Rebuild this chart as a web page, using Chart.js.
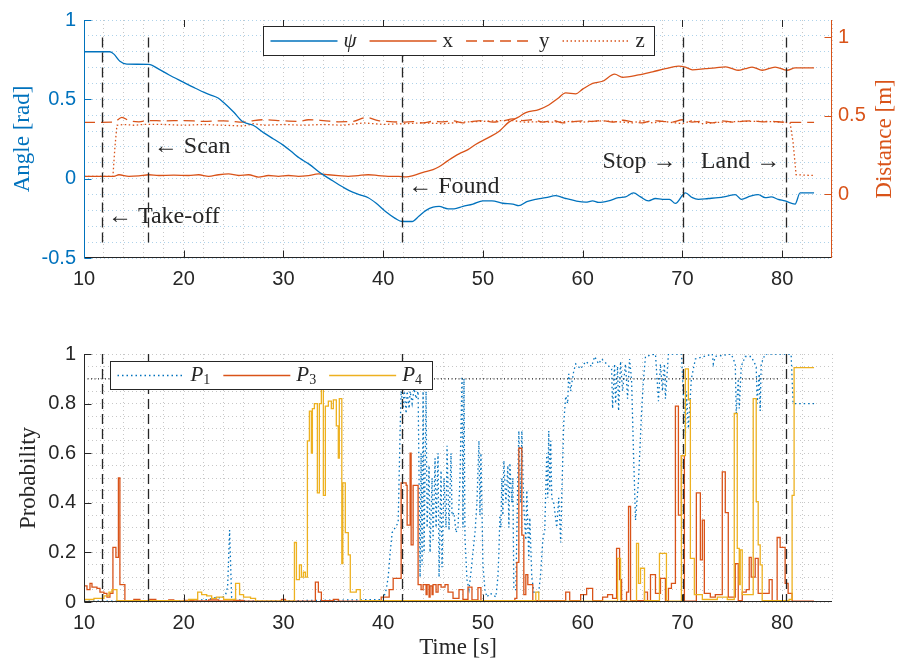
<!DOCTYPE html>
<html>
<head>
<meta charset="utf-8">
<script src="https://cdn.jsdelivr.net/npm/chart.js@4.4.1/dist/chart.umd.min.js"></script>
<style>
  body { margin: 0; background: #fff; }
  .panel { position: absolute; left: 0; }
</style>
</head>
<body>
<canvas id="poseChart" class="panel" style="top:0" width="898" height="300"></canvas>
<canvas id="probChart" class="panel" style="top:330px" width="898" height="335"></canvas>
<script>
const BLUE = '#0072BD', ORANGE = '#D95319', YELLOW = '#EDB120', INK = '#262626';
const GRID = 'rgba(38,38,38,0.26)';
const GRID_BLUE = 'rgba(0,114,189,0.32)';
const SERIF = '"Liberation Serif", "DejaVu Serif", serif';

// flight events [s]
const eventTimes = [11.8, 16.4, 41.9, 70.1, 80.4];
const eventSpanAngle = [-0.41, 0.89];

// notes on the top panel (anchored in time / angle)
const noteText  = ['\u2190 Take-off', '\u2190 Scan', '\u2190 Found', 'Stop \u2192', 'Land \u2192'];
const noteTime  = [12.4, 17.0, 42.5, 69.4, 79.8];
const noteAngle = [-0.24, 0.2, -0.05, 0.11, 0.11];
const noteAlign = ['left', 'left', 'left', 'right', 'right'];

// labelled ticks
const timeLabels  = [10, 20, 30, 40, 50, 60, 70, 80];
const angleLabels = [-0.5, 0, 0.5, 1];
const distLabels  = [0, 0.5, 1];
const probLabels  = [0, 0.2, 0.4, 0.6, 0.8, 1];

// heading psi [rad]
const psiTime = [10, 12.6, 13.0, 13.6, 14.3, 16.5, 17.5, 18.5, 20, 21, 22, 22.6, 23.4, 24, 25, 25.9, 26.5, 27, 28, 29,
  30, 31, 31.6, 32.6, 33.6, 34.6, 35.6, 36.6, 37.6, 38.5, 39.3, 40.3, 41.2, 41.9, 42.9, 43.6, 44.3, 45, 45.6, 46.5,
  47.1, 48, 49, 50, 50.9, 52, 53, 53.6, 54.4, 55.3, 56.3, 57.3, 58.3, 59.3, 60.3, 61, 61.6, 62.6, 63.6, 64.3,
  65.1, 65.8, 66.6, 67.3, 68, 68.7, 69.3, 70.3, 71, 71.6, 72.6, 73.6, 74.5, 75.3, 75.9, 76.8, 77.6, 78.3, 78.9, 79.6,
  80.3, 81.3, 81.8, 83.2];
const psiVal = [0.80, 0.80, 0.785, 0.74, 0.722, 0.72, 0.69, 0.655, 0.607, 0.575, 0.545, 0.53, 0.51, 0.48, 0.42, 0.36, 0.345, 0.335, 0.29, 0.25,
  0.21, 0.16, 0.13, 0.09, 0.04, 0.0, -0.04, -0.075, -0.10, -0.12, -0.155, -0.21, -0.25, -0.27, -0.27, -0.235, -0.20, -0.18, -0.175, -0.19,
  -0.19, -0.175, -0.16, -0.14, -0.14, -0.155, -0.16, -0.17, -0.145, -0.13, -0.12, -0.107, -0.125, -0.14, -0.148, -0.14, -0.15, -0.14, -0.12, -0.115,
  -0.09, -0.115, -0.14, -0.125, -0.13, -0.13, -0.156, -0.09, -0.12, -0.13, -0.125, -0.12, -0.11, -0.10, -0.13, -0.11, -0.10, -0.12, -0.115, -0.13,
  -0.14, -0.16, -0.09, -0.09];

// position x [m]
const xTime = [10, 13, 13.5, 14.5, 15.5, 16.5, 17.5, 19, 20.5, 21.5, 22.5, 23.5, 24.5, 25.5, 26.5, 27.5, 28.5, 29.5, 30.5, 31.5,
  32.5, 33.5, 34.5, 35.5, 36.5, 37.5, 38.5, 39.5, 40.5, 41.5, 42.3, 43, 44, 45, 45.6, 46.5, 47.6, 48.5, 49.3, 50.5,
  51.6, 52.6, 53.5, 54.3, 55.6, 56.6, 57.5, 58.3, 59.3, 60, 61, 62, 63.2, 64, 65.6, 67, 68.3, 69.6, 70.3, 71,
  72.3, 73.3, 74.3, 75, 75.6, 76.3, 77, 78, 79.3, 80.5, 81.3, 83.2];
const xVal = [0.115, 0.115, 0.125, 0.115, 0.118, 0.125, 0.12, 0.122, 0.12, 0.125, 0.115, 0.125, 0.13, 0.12, 0.125, 0.11, 0.12, 0.115, 0.12, 0.115,
  0.12, 0.13, 0.125, 0.12, 0.115, 0.12, 0.125, 0.12, 0.115, 0.115, 0.112, 0.12, 0.14, 0.158, 0.176, 0.215, 0.258, 0.285, 0.319, 0.36,
  0.40, 0.46, 0.49, 0.52, 0.54, 0.569, 0.61, 0.646, 0.64, 0.67, 0.707, 0.72, 0.765, 0.745, 0.76, 0.78, 0.80, 0.816, 0.81, 0.793,
  0.80, 0.805, 0.812, 0.80, 0.79, 0.80, 0.81, 0.79, 0.81, 0.79, 0.805, 0.805];

// position y [m]
const yTime = [10, 13, 13.8, 14.5, 15.5, 16.5, 18, 20, 22, 24, 26, 27, 28, 30, 31.5, 32.5, 34, 35.5, 37, 38.3,
  39.5, 41, 42, 43, 44, 45, 46, 47, 48, 49, 50, 51, 52, 53, 54, 55, 56, 57, 58, 59,
  60, 61, 62, 63, 64, 65, 66, 67, 68, 69, 70, 71, 72, 73, 74, 75, 76, 77, 78, 79, 80, 81, 83.2];
const yVal = [0.458, 0.46, 0.49, 0.47, 0.462, 0.47, 0.468, 0.47, 0.465, 0.468, 0.46, 0.47, 0.475, 0.468, 0.465, 0.475, 0.47, 0.462, 0.465, 0.49,
  0.47, 0.462, 0.46, 0.463, 0.455, 0.465, 0.462, 0.468, 0.455, 0.465, 0.47, 0.46, 0.468, 0.48, 0.47, 0.475, 0.46, 0.47, 0.455, 0.462,
  0.468, 0.465, 0.47, 0.46, 0.472, 0.462, 0.455, 0.47, 0.465, 0.46, 0.475, 0.46, 0.465, 0.455, 0.468, 0.46, 0.465, 0.468, 0.462, 0.465, 0.46, 0.458, 0.458];

// position z [m]
const zTime = [10, 12.9, 13.1, 13.3, 14, 15, 16, 18, 20, 22, 24, 26, 27, 28, 30, 32, 34, 36, 38, 40,
  42, 44, 46, 48, 50, 52, 53, 54, 55.5, 57, 59, 60, 62, 64, 65, 66, 67, 68, 70, 71,
  72, 74, 76, 78, 80, 80.8, 81.1, 81.4, 83.2];
const zVal = [0.115, 0.115, 0.3, 0.44, 0.445, 0.44, 0.445, 0.445, 0.44, 0.445, 0.44, 0.435, 0.45, 0.44, 0.445, 0.44, 0.445, 0.44, 0.455, 0.445,
  0.45, 0.455, 0.45, 0.46, 0.465, 0.47, 0.47, 0.46, 0.462, 0.46, 0.465, 0.46, 0.468, 0.46, 0.455, 0.47, 0.455, 0.465, 0.45, 0.47,
  0.45, 0.46, 0.465, 0.465, 0.46, 0.455, 0.33, 0.125, 0.12];

// class probabilities
const p1Time = [10, 20, 22.5, 23.3, 23.8, 24.2, 24.4, 24.6, 24.8, 25.3, 26.5, 40.0, 40.3, 40.5, 40.7, 40.9, 41.2, 41.5, 41.7, 41.8,
  42.0, 42.1, 42.3, 42.4, 42.6, 42.7, 42.9, 43.1, 43.3, 43.5, 43.7, 43.8, 43.9, 44.0, 44.1, 44.3, 44.4, 44.6, 44.7, 44.9,
  45.0, 45.2, 45.3, 45.5, 45.6, 45.8, 45.9, 46.1, 46.3, 46.4, 46.6, 46.8, 46.9, 47.1, 47.3, 47.5, 47.7, 47.9, 48.0, 48.1,
  48.2, 48.4, 48.6, 48.8, 49.0, 49.2, 49.4, 49.6, 49.7, 49.8, 50.0, 50.2, 50.4, 50.7, 51.0, 51.3, 51.5, 51.6, 51.7, 51.8,
  51.9, 52.0, 52.1, 52.3, 52.5, 52.6, 52.7, 52.9, 53.0, 53.1, 53.3, 53.5, 53.6, 53.8, 53.9, 54.1, 54.3, 54.4, 54.6, 54.7,
  54.9, 55.1, 55.6, 55.8, 56.0, 56.2, 56.3, 56.4, 56.5, 56.6, 56.7, 56.8, 56.9, 57.1, 57.4, 57.6, 57.8, 57.9, 58.1, 58.3,
  58.5, 58.6, 58.8, 58.9, 59.1, 59.3, 59.8, 60.3, 60.9, 61.2, 61.6, 61.9, 62.4, 62.9, 63.0, 63.2, 63.3, 63.5, 63.6, 63.8,
  64.0, 64.3, 64.5, 64.7, 64.9, 65.1, 65.3, 65.6, 65.9, 66.1, 66.3, 67.3, 67.6, 67.8, 68.0, 68.2, 68.3, 68.6, 69.9, 70.3,
  70.4, 70.6, 70.9, 71.3, 73.0, 73.1, 73.3, 74.9, 75.3, 75.4, 75.6, 75.7, 75.9, 76.3, 76.9, 77.4, 77.5, 77.7, 77.8, 77.9,
  78.3, 80.9, 81.1, 83.2];
const p1Val = [0.003, 0.005, 0.01, 0.02, 0.015, 0.03, 0.06, 0.29, 0.02, 0.01, 0.003, 0.01, 0.05, 0.1, 0.2, 0.28, 0.3, 0.32, 0.7, 0.85,
  0.78, 0.86, 0.76, 0.85, 0.78, 0.85, 0.8, 0.86, 0.82, 0.85, 0.1, 0.6, 0.15, 0.85, 0.2, 0.85, 0.3, 0.55, 0.2, 0.5,
  0.25, 0.58, 0.3, 0.6, 0.1, 0.53, 0.14, 0.5, 0.3, 0.63, 0.29, 0.6, 0.35, 0.36, 0.28, 0.3, 0.5, 0.91, 0.3, 0.9,
  0.26, 0.09, 0.05, 0.12, 0.2, 0.28, 0.4, 0.65, 0.35, 0.6, 0.15, 0.05, 0.02, 0.035, 0.03, 0.02, 0.1, 0.2, 0.35, 0.3,
  0.5, 0.35, 0.57, 0.4, 0.55, 0.3, 0.56, 0.4, 0.5, 0.05, 0.05, 0.5, 0.69, 0.4, 0.69, 0.38, 0.25, 0.45, 0.17, 0.34,
  0.1, 0.04, 0.04, 0.12, 0.25, 0.29, 0.45, 0.6, 0.42, 0.69, 0.45, 0.65, 0.42, 0.4, 0.3, 0.42, 0.24, 0.42, 0.72, 0.83,
  0.8, 0.92, 0.85, 0.88, 0.93, 0.96, 0.94, 0.97, 0.95, 0.99, 0.96, 0.98, 0.96, 0.94, 0.78, 0.96, 0.8, 0.95, 0.77, 0.97,
  0.85, 0.96, 0.82, 0.98, 0.9, 0.6, 0.33, 0.49, 0.76, 0.9, 0.99, 1.0, 0.81, 0.96, 0.85, 0.96, 0.82, 1.0, 1.0, 0.67,
  0.85, 0.7, 0.9, 0.98, 1.0, 0.96, 0.99, 1.0, 0.96, 0.76, 0.9, 0.78, 0.95, 0.99, 0.99, 0.95, 0.8, 0.92, 0.77, 0.96,
  1.0, 1.0, 0.8, 0.8];

const p3Time = [10.0, 10.3, 10.6, 10.8, 11.3, 11.6, 12.0, 12.3, 12.6, 12.9, 13.2, 13.45, 13.6, 14.1, 15.0, 15.6, 16.6, 17.2, 18.5, 19.0,
  20.0, 21.0, 22.5, 23.5, 25.0, 26.0, 29.8, 30.2, 33.2, 33.5, 33.8, 35.0, 35.5, 39.8, 40.4, 40.6, 41.0, 41.8, 42.3, 42.4,
  42.7, 42.8, 43.0, 43.5, 43.8, 44.0, 44.3, 44.4, 44.6, 44.7, 44.9, 45.0, 45.3, 45.5, 45.8, 46.2, 46.5, 47.0, 47.6, 48.0,
  48.5, 48.9, 49.5, 49.8, 53.2, 53.4, 53.6, 53.9, 54.1, 54.3, 54.5, 55.0, 58.3, 58.7, 59.8, 60.4, 61.0, 62.0, 62.5, 63.0,
  63.4, 63.7, 63.9, 64.4, 64.6, 64.8, 66.2, 66.5, 66.8, 67.3, 67.8, 68.3, 68.6, 68.9, 69.3, 69.6, 69.9, 70.2, 71.4, 71.8,
  72.0, 72.2, 72.8, 73.3, 74.0, 74.3, 74.6, 75.3, 75.6, 76.0, 76.4, 76.7, 76.9, 77.3, 77.6, 78.7, 79.0, 79.5, 79.8, 80.3,
  80.6, 81.0, 83.2];
const p3Val = [0.065, 0.05, 0.075, 0.06, 0.055, 0.04, 0.035, 0.02, 0.035, 0.22, 0.18, 0.5, 0.07, 0.003, 0.01, 0.004, 0.01, 0.004, 0.008, 0.003,
  0.006, 0.004, 0.008, 0.004, 0.006, 0.003, 0.01, 0.003, 0.08, 0.04, 0.005, 0.01, 0.003, 0.02, 0.02, 0.05, 0.095, 0.48, 0.47, 0.31,
  0.6, 0.23, 0.47, 0.07, 0.05, 0.07, 0.03, 0.07, 0.02, 0.065, 0.03, 0.07, 0.04, 0.07, 0.06, 0.07, 0.04, 0.015, 0.05, 0.01,
  0.06, 0.008, 0.058, 0.005, 0.015, 0.16, 0.62, 0.27, 0.03, 0.11, 0.07, 0.005, 0.04, 0.005, 0.03, 0.055, 0.005, 0.02, 0.03, 0.015,
  0.216, 0.09, 0.005, 0.04, 0.385, 0.005, 0.04, 0.005, 0.11, 0.035, 0.095, 0.005, 0.055, 0.075, 0.79, 0.35, 0.59, 0.003, 0.44, 0.17,
  0.33, 0.035, 0.02, 0.03, 0.525, 0.36, 0.02, 0.155, 0.005, 0.04, 0.05, 0.18, 0.1, 0.176, 0.035, 0.09, 0.005, 0.26, 0.22, 0.075,
  0.035, 0.003, 0.003];

const p4Time = [10.0, 11.0, 12.0, 12.5, 12.8, 13.3, 19.5, 20.5, 21.4, 21.8, 22.3, 22.8, 23.3, 24.0, 25.2, 25.6, 26.0, 26.7, 27.2, 31.1,
  31.3, 31.6, 31.8, 32.0, 32.2, 32.4, 32.6, 32.8, 32.9, 33.1, 33.4, 33.6, 33.8, 34.0, 34.2, 34.5, 34.8, 35.0, 35.3, 35.5,
  35.6, 35.85, 35.95, 36.2, 36.5, 36.7, 37.3, 37.7, 55.3, 55.6, 63.5, 63.8, 65.4, 65.6, 65.8, 66.2, 67.7, 68.4, 69.9, 70.3,
  70.6, 70.8, 71.2, 72.0, 73.5, 74.5, 75.2, 75.5, 75.7, 75.8, 76.0, 77.1, 77.4, 77.6, 77.8, 78.0, 80.7, 81.0, 81.2, 83.2];
const p4Val = [0.01, 0.015, 0.025, 0.04, 0.05, 0.005, 0.003, 0.01, 0.04, 0.03, 0.025, 0.015, 0.02, 0.01, 0.075, 0.03, 0.02, 0.015, 0.003, 0.24,
  0.09, 0.15, 0.1, 0.12, 0.1, 0.65, 0.77, 0.6, 0.78, 0.8, 0.44, 0.8, 0.88, 0.43, 0.79, 0.81, 0.78, 0.815, 0.71, 0.58,
  0.82, 0.155, 0.48, 0.28, 0.19, 0.04, 0.05, 0.005, 0.04, 0.003, 0.176, 0.003, 0.236, 0.075, 0.136, 0.005, 0.196, 0.003, 0.59, 0.94,
  0.815, 0.176, 0.03, 0.01, 0.02, 0.01, 0.76, 0.216, 0.07, 0.21, 0.03, 0.82, 0.405, 0.23, 0.15, 0.005, 0.01, 0.43, 0.945, 0.945];

// decision threshold
const thresholdValue = 0.9;
const thresholdSpan = [10, 79.6];

const pts = (xs, ys) => xs.map((x, i) => ({ x: x, y: ys[i] }));
const near = (v, list) => list.some(l => Math.abs(l - v) < 1e-6);

Chart.defaults.font.family = '"Liberation Sans", Arial, sans-serif';
Chart.defaults.color = INK;

function timeAxis(height, title) {
  return {
    type: 'linear', min: 10, max: 85,
    afterFit: s => { s.height = height; },
    ticks: {
      stepSize: 2, maxTicksLimit: 100, autoSkip: false, maxRotation: 0, padding: 9, color: INK, font: { size: 20 },
      callback: v => near(v, timeLabels) ? String(v) : ''
    },
    grid: { color: GRID, drawTicks: false },
    border: { display: false, dash: [1, 3] },
    title: title
      ? { display: true, text: title, color: INK, font: { family: SERIF, size: 23 }, padding: { top: 0, bottom: 3 } }
      : { display: false }
  };
}

// axis lines, inward ticks, event markers, legend box and notes
function frame(cfg) {
  return {
    id: 'frame',
    afterDatasetsDraw(chart) {
      const { ctx, chartArea: a, scales } = chart;
      const xs = scales.x;
      ctx.save();

      const ev = scales[cfg.eventAxis];
      const yA = cfg.eventSpan ? ev.getPixelForValue(cfg.eventSpan[1]) : a.top;
      const yB = cfg.eventSpan ? ev.getPixelForValue(cfg.eventSpan[0]) : a.bottom;
      ctx.strokeStyle = INK;
      ctx.lineWidth = 1.3;
      ctx.setLineDash([10, 5]);
      eventTimes.forEach(t => {
        const px = Math.round(xs.getPixelForValue(t)) + 0.5;
        ctx.beginPath(); ctx.moveTo(px, yA); ctx.lineTo(px, yB); ctx.stroke();
      });
      ctx.setLineDash([]);

      const L = Math.round(a.left) + 0.5, R = Math.round(a.right) - 0.5, B = Math.round(a.bottom) - 0.5;
      cfg.axes.forEach(ax => {
        const sc = scales[ax.id];
        ctx.strokeStyle = ax.color;
        ctx.lineWidth = 1;
        ctx.beginPath();
        if (ax.side === 'left' || ax.side === 'right') {
          const x0 = ax.side === 'left' ? L : R, dir = ax.side === 'left' ? 1 : -1;
          ctx.moveTo(x0, a.top); ctx.lineTo(x0, a.bottom);
          ax.ticks.forEach(v => {
            const py = Math.round(sc.getPixelForValue(v)) + 0.5;
            ctx.moveTo(x0, py); ctx.lineTo(x0 + dir * 7, py);
          });
        } else {
          ctx.moveTo(a.left, B); ctx.lineTo(a.right, B);
          ax.ticks.forEach(v => {
            const px = Math.round(sc.getPixelForValue(v)) + 0.5;
            ctx.moveTo(px, B); ctx.lineTo(px, B - 7);
            if (ax.mirror) { ctx.moveTo(px, a.top); ctx.lineTo(px, a.top + 7); }
          });
        }
        ctx.stroke();
      });

      if (cfg.legend) {
        const g = cfg.legend;
        const bx = Math.round(a.left + g.dx) + 0.5, by = Math.round(a.top + g.dy) + 0.5;
        ctx.fillStyle = '#fff';
        ctx.fillRect(bx, by, g.w, g.h);
        ctx.strokeStyle = INK;
        ctx.lineWidth = 1;
        ctx.strokeRect(bx, by, g.w, g.h);
        let x = bx + 7;
        const cy = by + g.h / 2;
        chart.data.datasets.filter(ds => ds.legendShow !== false).forEach(ds => {
          ctx.strokeStyle = ds.borderColor;
          ctx.lineWidth = ds.borderWidth;
          ctx.setLineDash(ds.borderDash || []);
          ctx.beginPath(); ctx.moveTo(x, cy); ctx.lineTo(x + 67, cy); ctx.stroke();
          ctx.setLineDash([]);
          x += 73;
          ctx.fillStyle = INK;
          ctx.textAlign = 'left';
          ctx.textBaseline = 'middle';
          ctx.font = (ds.legendItalic ? 'italic ' : '') + '21px ' + SERIF;
          ctx.fillText(ds.label, x, cy);
          x += ctx.measureText(ds.label).width;
          if (ds.legendSub) {
            ctx.font = '14px ' + SERIF;
            ctx.fillText(ds.legendSub, x, cy + 5);
            x += ctx.measureText(ds.legendSub).width;
          }
          x += 13;
        });
      }

      if (cfg.notes) {
        const ys = scales[cfg.notes];
        ctx.fillStyle = INK;
        ctx.font = '24px ' + SERIF;
        ctx.textBaseline = 'middle';
        noteText.forEach((txt, i) => {
          ctx.textAlign = noteAlign[i];
          ctx.fillText(txt, xs.getPixelForValue(noteTime[i]), ys.getPixelForValue(noteAngle[i]));
        });
      }

      if (cfg.sideTitle) {
        const s = cfg.sideTitle;
        ctx.translate(s.x, (a.top + a.bottom) / 2);
        ctx.rotate(-Math.PI / 2);
        ctx.fillStyle = s.color;
        ctx.font = '23px ' + SERIF;
        ctx.textAlign = 'center';
        ctx.textBaseline = 'middle';
        ctx.fillText(s.text, 0, 0);
      }
      ctx.restore();
    }
  };
}

const lineBase = { pointRadius: 0, borderWidth: 1.3, fill: false };

new Chart(document.getElementById('poseChart'), {
  type: 'line',
  data: {
    datasets: [
      { ...lineBase, label: '\u03C8', legendItalic: true, data: pts(psiTime, psiVal), yAxisID: 'yAngle',
        borderColor: BLUE, cubicInterpolationMode: 'monotone' },
      { ...lineBase, label: 'x', data: pts(xTime, xVal), yAxisID: 'yDist',
        borderColor: ORANGE, cubicInterpolationMode: 'monotone' },
      { ...lineBase, label: 'y', data: pts(yTime, yVal), yAxisID: 'yDist',
        borderColor: ORANGE, borderDash: [11, 6], cubicInterpolationMode: 'monotone' },
      { ...lineBase, label: 'z', data: pts(zTime, zVal), yAxisID: 'yDist',
        borderColor: ORANGE, borderDash: [1.5, 2.5] }
    ]
  },
  options: {
    responsive: false,
    animation: false,
    events: [],
    layout: { padding: { top: 11 } },
    plugins: { legend: { display: false }, tooltip: { enabled: false } },
    scales: {
      x: timeAxis(42, null),
      yAngle: {
        type: 'linear', position: 'left', min: -0.5, max: 1,
        afterFit: s => { s.width = 84; },
        ticks: {
          stepSize: 0.1, maxTicksLimit: 100, autoSkip: false, padding: 8, color: BLUE, font: { size: 20 },
          callback: v => near(v, angleLabels) ? String(Math.round(v * 10) / 10) : ''
        },
        grid: { color: GRID_BLUE, drawTicks: false },
        border: { display: false, dash: [1, 3] },
        title: { display: true, text: 'Angle [rad]', color: BLUE, font: { family: SERIF, size: 23 }, padding: { top: 9 } }
      },
      yDist: {
        type: 'linear', position: 'right', min: -0.405, max: 1.11,
        afterFit: s => { s.width = 66; },
        afterBuildTicks: s => { s.ticks = distLabels.map(v => ({ value: v })); },
        ticks: { autoSkip: false, padding: 6, color: ORANGE, font: { size: 20 }, callback: v => String(v) },
        grid: { drawOnChartArea: false, drawTicks: false },
        border: { display: false }
      }
    }
  },
  plugins: [frame({
    eventAxis: 'yAngle',
    eventSpan: eventSpanAngle,
    axes: [
      { side: 'bottom', id: 'x', color: INK, ticks: timeLabels, mirror: true },
      { side: 'left', id: 'yAngle', color: BLUE, ticks: angleLabels },
      { side: 'right', id: 'yDist', color: ORANGE, ticks: distLabels }
    ],
    legend: { dx: 179, dy: 6, w: 391, h: 29 },
    notes: 'yAngle',
    sideTitle: { text: 'Distance [m]', x: 885, color: ORANGE }
  })]
});

new Chart(document.getElementById('probChart'), {
  type: 'line',
  data: {
    datasets: [
      { ...lineBase, label: 'P', legendSub: '1', legendItalic: true, data: pts(p1Time, p1Val),
        borderColor: BLUE, borderDash: [1.5, 3], order: 2 },
      { ...lineBase, label: 'P', legendSub: '3', legendItalic: true, data: pts(p3Time, p3Val),
        borderColor: ORANGE, stepped: true, order: 1 },
      { ...lineBase, label: 'P', legendSub: '4', legendItalic: true, data: pts(p4Time, p4Val),
        borderColor: YELLOW, stepped: true, order: 0 },
      { ...lineBase, label: 'threshold', legendShow: false,
        data: pts(thresholdSpan, [thresholdValue, thresholdValue]),
        borderColor: INK, borderWidth: 1.2, borderDash: [1, 2.5], order: -1 }
    ]
  },
  options: {
    responsive: false,
    animation: false,
    events: [],
    layout: { padding: { top: 24, right: 66 } },
    plugins: { legend: { display: false }, tooltip: { enabled: false } },
    scales: {
      x: timeAxis(63, 'Time [s]'),
      y: {
        type: 'linear', position: 'left', min: 0, max: 1,
        afterFit: s => { s.width = 84; },
        ticks: {
          stepSize: 0.05, maxTicksLimit: 100, autoSkip: false, padding: 8, color: INK, font: { size: 20 },
          callback: v => near(v, probLabels) ? String(Math.round(v * 10) / 10) : ''
        },
        grid: { color: GRID, drawTicks: false },
        border: { display: false, dash: [1, 3] },
        title: { display: true, text: 'Probability', color: INK, font: { family: SERIF, size: 23 }, padding: { top: 15 } }
      }
    }
  },
  plugins: [frame({
    eventAxis: 'y',
    eventSpan: null,
    axes: [
      { side: 'bottom', id: 'x', color: INK, ticks: timeLabels, mirror: false },
      { side: 'left', id: 'y', color: INK, ticks: probLabels }
    ],
    legend: { dx: 26, dy: 7, w: 322, h: 28 }
  })]
});
</script>
</body>
</html>
